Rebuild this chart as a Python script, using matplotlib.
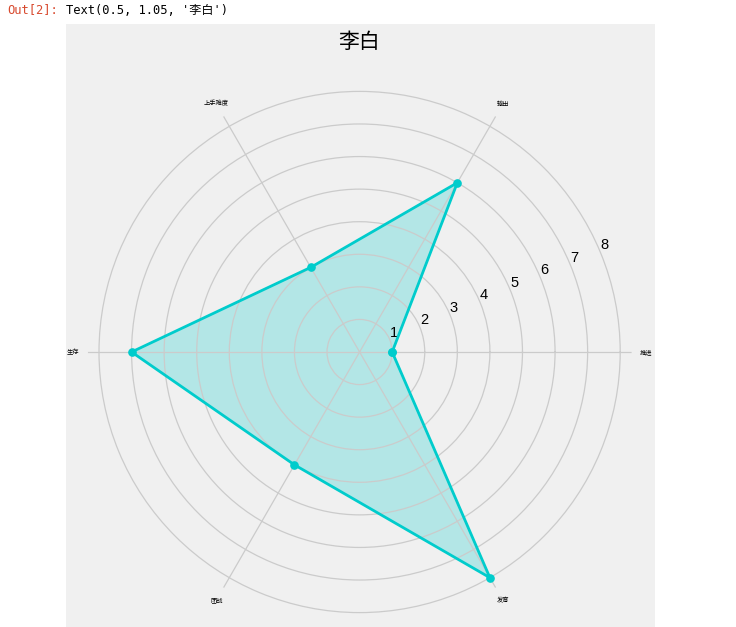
import numpy as np
import matplotlib.pyplot as plt
from matplotlib.patches import Rectangle

CJK = ['Noto Sans CJK SC', 'DejaVu Sans']
plt.rcParams['font.family'] = CJK

hero = '李白'
labels = ['推进', '输出', '上手难度', '生存', '团战', '发育']
values = [1, 6, 3, 7, 4, 8]
rticks = [1, 2, 3, 4, 5, 6, 7, 8]

W, H = 736, 627
fig = plt.figure(figsize=(W / 100, H / 100), dpi=100, facecolor='white')
fig.patches.append(Rectangle((66 / W, 0), (655 - 66) / W, (H - 24) / H,
                             transform=fig.transFigure, facecolor='#f0f0f0',
                             edgecolor='none', zorder=-10))

# notebook output line
mono = ['DejaVu Sans Mono', 'Noto Sans CJK SC']
fig.text(7 / W, 1 - 10 / H, 'Out[2]:', color='#d84a2f', fontsize=8.7,
         family=mono, va='center')
fig.text(66 / W, 1 - 10 / H, "Text(0.5, 1.05, '李白')", color='black', fontsize=8.7,
         family=mono, va='center')

cx, cy, R = 359.6, 352, 272
ax = fig.add_axes([(cx - R) / W, (H - cy - R) / H, 2 * R / W, 2 * R / H],
                  projection='polar', facecolor='#f0f0f0')

n = len(labels)
angles = np.linspace(0, 2 * np.pi, n, endpoint=False)
theta = np.concatenate([angles, angles[:1]])
r = np.concatenate([values, values[:1]])

ax.plot(theta, r, 'o-', color='#00cccc', lw=2, ms=5.2)
ax.fill(theta, r, color='#00cccc', alpha=0.25)

ax.set_thetagrids(np.degrees(angles), labels, fontsize=4.5)
ax.set_yticks(rticks)
ax.set_yticklabels([str(t) for t in rticks], fontsize=10.5, family='Liberation Sans')
ax.set_ylim(0, 8.35)
ax.tick_params(axis='x', pad=0)
ax.spines['polar'].set_visible(False)
ax.grid(True, color='#cbcbcb', lw=0.9)

ax.set_title(hero, y=1.05, fontsize=15, pad=3.8)

fig.savefig('out.png', dpi=100, facecolor='white')
